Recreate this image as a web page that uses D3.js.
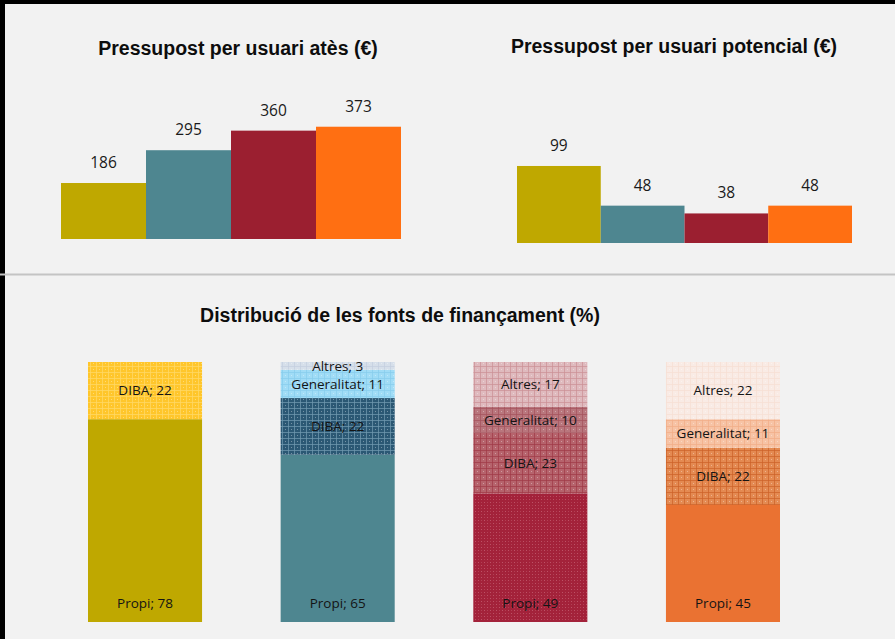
<!DOCTYPE html>
<html>
<head>
<meta charset="utf-8">
<script src="https://cdn.jsdelivr.net/npm/d3@7/dist/d3.min.js"></script>
<style>
  html, body { margin: 0; padding: 0; background: #f2f2f2; }
  svg { display: block; }
</style>
</head>
<body>
<svg id="chart" width="895" height="639"></svg>
<script>
// ---- DATA ----
const entitats = ["Entitat 1", "Entitat 2", "Entitat 3", "Entitat 4"];
const colorsTop = ["#bfa800", "#4e8690", "#9b1f30", "#ff6f12"];
const pressupostAtes = [186, 295, 360, 373];
const pressupostPotencial = [99, 48, 38, 48];
const fonts = ["Propi", "DIBA", "Generalitat", "Altres"];
const fontPropi = [78, 65, 49, 45];
const fontDIBA = [22, 22, 23, 22];
const fontGeneralitat = [0, 11, 10, 11];
const fontAltres = [0, 3, 17, 22];
const titles = ["Pressupost per usuari atès (€)", "Pressupost per usuari potencial (€)", "Distribució de les fonts de finançament (%)"];

// segment palettes per entitat: [base, line color]
const segStyles = [
  { Propi: ["#bfa800", null], DIBA: ["#ffc62b", "#ffd866"], Generalitat: ["#ffe08a", "#fff0c0"], Altres: ["#fff2cc", "#fff8e0"] },
  { Propi: ["#4e8690", null], DIBA: ["#2b5874", "#6f98ae"], Generalitat: ["#a0dcf6", "#88cdec"], Altres: ["#d6dfea", "#c4cfdf"] },
  { Propi: ["#a3223a", "#bd5266"], DIBA: ["#b6636c", "#a03a48"], Generalitat: ["#b9767d", "#a5535d"], Altres: ["#dfbabe", "#cc9197"] },
  { Propi: ["#ea7232", null], DIBA: ["#e48a52", "#cd6229"], Generalitat: ["#f7c3a5", "#f1ad88"], Altres: ["#f9ebe5", "#f6dfd4"] }
];

const svg = d3.select("#chart");
const defs = svg.append("defs");

// ---- Frame ----
svg.append("rect").attr("x", 0).attr("y", 0).attr("width", 895).attr("height", 4).attr("fill", "#000");
svg.append("rect").attr("x", 0).attr("y", 0).attr("width", 5).attr("height", 639).attr("fill", "#000");
svg.append("line").attr("x1", 0).attr("x2", 895).attr("y1", 274.5).attr("y2", 274.5)
  .attr("stroke", "#c4c4c4").attr("stroke-width", 2);

const titleFont = "'Liberation Sans', Arial, sans-serif";
const labelFont = "'Open Sans', 'Noto Sans', sans-serif";

function topChart(values, xr, yBase, yMax, pxPerUnit, title, tx, ty) {
  const x = d3.scaleBand().domain(entitats).range(xr).paddingInner(0).paddingOuter(0);
  const y = d3.scaleLinear().domain([0, yMax]).range([yBase, yBase - pxPerUnit * yMax]);
  const g = svg.append("g");
  g.selectAll("rect").data(values).join("rect")
    .attr("x", (d, i) => x(entitats[i]))
    .attr("width", x.bandwidth())
    .attr("y", d => y(d))
    .attr("height", d => y(0) - y(d))
    .attr("fill", (d, i) => colorsTop[i]);
  g.selectAll("text.val").data(values).join("text")
    .attr("class", "val")
    .attr("x", (d, i) => x(entitats[i]) + x.bandwidth() / 2)
    .attr("y", d => y(d) - 15)
    .attr("text-anchor", "middle")
    .attr("font-family", labelFont)
    .attr("font-size", 15.5)
    .attr("fill", "#1a1a1a")
    .text(d => d);
  svg.append("text").attr("x", tx).attr("y", ty)
    .attr("text-anchor", "middle")
    .attr("font-family", titleFont).attr("font-weight", "bold")
    .attr("font-size", 19.5).attr("fill", "#0d0d0d")
    .text(title);
}

topChart(pressupostAtes, [61, 401], 239, 400, 0.301, titles[0], 238, 55);
topChart(pressupostPotencial, [517, 852], 243, 100, 0.778, titles[1], 674, 52.5);

// ---- Patterns ----
function makePattern(id, base, line, kind) {
  const p = defs.append("pattern").attr("id", id).attr("patternUnits", "userSpaceOnUse")
    .attr("width", 6).attr("height", 6);
  p.append("rect").attr("width", 6).attr("height", 6).attr("fill", base);
  if (!line) return;
  if (kind === "dots") {
    p.append("rect").attr("x", 1).attr("y", 1).attr("width", 1).attr("height", 1).attr("fill", line);
    p.append("rect").attr("x", 4).attr("y", 4).attr("width", 1).attr("height", 1).attr("fill", line);
    p.append("rect").attr("x", 4).attr("y", 1).attr("width", 1).attr("height", 1).attr("fill", line).attr("opacity", 0.6);
    p.append("rect").attr("x", 1).attr("y", 4).attr("width", 1).attr("height", 1).attr("fill", line).attr("opacity", 0.6);
  } else {
    p.append("rect").attr("x", 0).attr("y", 0).attr("width", 6).attr("height", 1).attr("fill", line).attr("opacity", 0.75);
    p.append("rect").attr("x", 0).attr("y", 0).attr("width", 1).attr("height", 6).attr("fill", line).attr("opacity", 0.75);
    p.append("rect").attr("x", 3).attr("y", 3).attr("width", 1).attr("height", 1).attr("fill", "#ffffff").attr("opacity", 0.35);
  }
}
segStyles.forEach((s, i) => {
  fonts.forEach(f => {
    const [base, line] = s[f];
    makePattern(`pat-${i}-${f}`, base, line, (f === "Propi") ? "dots" : "grid");
  });
});

// ---- Stacked chart ----
const stackRows = entitats.map((e, i) => ({
  entitat: e, idx: i,
  Propi: fontPropi[i], DIBA: fontDIBA[i], Generalitat: fontGeneralitat[i], Altres: fontAltres[i]
}));
const series = d3.stack().keys(fonts).offset(d3.stackOffsetExpand)(stackRows);

const xb = d3.scaleBand().domain(entitats).range([88, 780]).paddingInner(0.408).paddingOuter(0);
const yb = d3.scaleLinear().domain([0, 1]).range([622, 362]);

const gb = svg.append("g");
series.forEach(ser => {
  const key = ser.key;
  gb.append("g").selectAll("rect").data(ser).join("rect")
    .attr("x", d => xb(d.data.entitat))
    .attr("width", xb.bandwidth())
    .attr("y", d => yb(d[1]))
    .attr("height", d => yb(d[0]) - yb(d[1]))
    .attr("fill", d => `url(#pat-${d.data.idx}-${key})`);
});
series.forEach(ser => {
  const key = ser.key;
  gb.append("g").selectAll("text").data(ser.filter(d => d.data[key] > 0)).join("text")
    .attr("x", d => xb(d.data.entitat) + xb.bandwidth() / 2)
    .attr("y", d => key === "Propi" ? yb(0) - 14 : (yb(d[0]) + yb(d[1])) / 2)
    .attr("dy", key === "Propi" ? 0 : "0.36em")
    .attr("text-anchor", "middle")
    .attr("font-family", labelFont)
    .attr("font-size", 13.5)
    .attr("fill", "#141414")
    .text(d => `${key}; ${d.data[key]}`);
});

svg.append("text").attr("x", 400).attr("y", 322)
  .attr("text-anchor", "middle")
  .attr("font-family", titleFont).attr("font-weight", "bold")
  .attr("font-size", 19.5).attr("fill", "#0d0d0d")
  .text(titles[2]);
</script>
</body>
</html>
